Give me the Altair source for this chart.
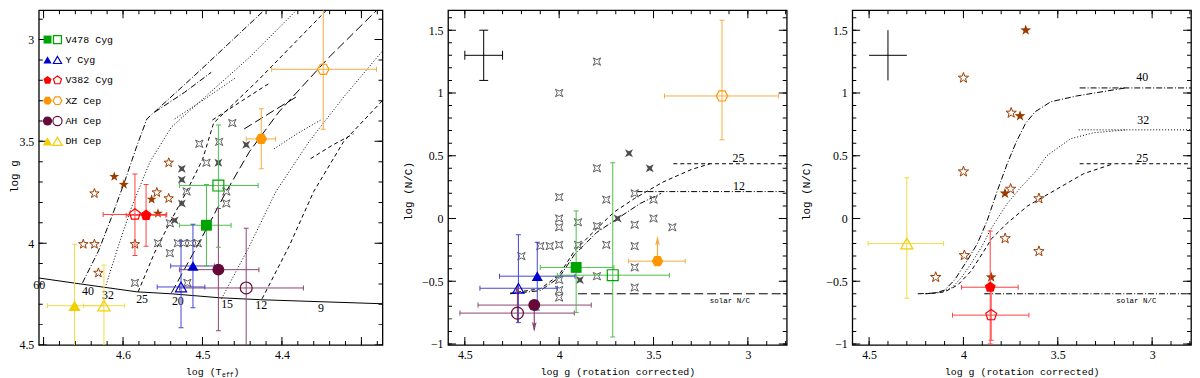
import altair as alt
import pandas as pd

NaN = float("nan")
MONO = "Liberation Mono"
SERIF = "Liberation Serif"

# ---------------- styles ----------------
STAR_NAMES = ["V478 Cyg", "Y Cyg", "V382 Cyg", "XZ Cep", "AH Cep", "DH Cep"]
STAR_COLORS = ["#00a400", "#0000cc", "#ff0000", "#ff9600", "#650a38", "#f2d000"]
BAR_COLORS = ["#4cbf4c", "#4646d2", "#ff4040", "#f6ad42", "#8a4672", "#f0dc46"]
PENTAGON = "M0,-1L0.951,-0.309L0.588,0.809L-0.588,0.809L-0.951,-0.309Z"
HEXAGON = "M1,0L0.5,0.866L-0.5,0.866L-1,0L-0.5,-0.866L0.5,-0.866Z"
STAR5 = ("M0,-1L0.235,-0.324L0.951,-0.309L0.38,0.124L0.588,0.809L0,0.4"
         "L-0.588,0.809L-0.38,0.124L-0.951,-0.309L-0.235,-0.324Z")
STAR4 = "M-1,-1L0,-0.5L1,-1L0.5,0L1,1L0,0.5L-1,1L-0.5,0Z"
ARROW_UP = "M0,-1L0.45,0.8L0,0.45L-0.45,0.8Z"
ARROW_DOWN = "M0,1L0.45,-0.8L0,-0.45L-0.45,-0.8Z"
STAR_SHAPES = ["square", "triangle-up", PENTAGON, HEXAGON, "circle", "triangle-up"]
STAR_SIZES = [120, 150, 250, 300, 225, 150]
LEGEND_SIZES = [64, 90, 110, 110, 100, 90]
BROWN = "#9a3b00"
GREY_OPEN = "#5e5e5e"
GREY_FILL = "#4e4e4e"
DASH = {"solid": None, "dashdot": [6, 2, 1, 2], "dotted": [1, 2],
        "dashed": [4, 3], "longdash": [9, 4]}

# ---------------- panel 1 data: log Teff vs log g ----------------
P1_STAR = ["V478 Cyg", "V478 Cyg", "Y Cyg", "Y Cyg", "V382 Cyg", "V382 Cyg",
           "XZ Cep", "XZ Cep", "AH Cep", "AH Cep", "DH Cep", "DH Cep"]
P1_KIND = ["filled", "open"] * 6
P1_TEFF = [4.495, 4.480, 4.512, 4.527, 4.571, 4.585, 4.426, 4.348, 4.480, 4.445, 4.661, 4.624]
P1_TEFF_LO = [4.529, 4.529, 4.540, 4.557, 4.596, 4.625, 4.445, 4.413, 4.529, 4.529, 4.695, 4.650]
P1_TEFF_HI = [4.464, 4.430, 4.485, 4.497, 4.546, 4.545, 4.408, 4.281, 4.429, 4.373, 4.625, 4.598]
P1_LOGG = [3.912, 3.717, 4.112, 4.215, 3.863, 3.859, 3.488, 3.146, 4.130, 4.220, 4.307, 4.307]
P1_LOGG_LO = [3.712, 3.420, 3.907, 3.990, 3.712, 3.660, 3.340, 2.844, 3.830, 3.927, 4.005, 4.107]
P1_LOGG_HI = [4.112, 4.020, 4.317, 4.415, 4.015, 4.060, 3.634, 3.440, 4.430, 4.520, 4.610, 4.507]

P1_GREY_OPEN_TEFF = [4.4625, 4.504, 4.479, 4.495, 4.520, 4.470, 4.470, 4.541,
                     4.556, 4.531, 4.524, 4.515, 4.506, 4.541, 4.585, 4.519]
P1_GREY_OPEN_LOGG = [3.410, 3.512, 3.502, 3.605, 3.746, 3.746, 3.805, 3.902,
                     4.000, 4.000, 4.000, 4.000, 4.000, 4.049, 4.195, 4.195]
P1_GREY_FILL_TEFF = [4.480, 4.445, 4.526, 4.526, 4.526, 4.535]
P1_GREY_FILL_LOGG = [3.605, 3.517, 3.634, 3.688, 3.805, 3.888]
P1_BROWN_OPEN_TEFF = [4.636, 4.5425, 4.5575, 4.5425, 4.585, 4.650, 4.636, 4.631]
P1_BROWN_OPEN_LOGG = [3.756, 3.605, 3.751, 3.780, 4.005, 4.005, 4.005, 4.146]
P1_BROWN_FILL_TEFF = [4.611, 4.599, 4.564, 4.556]
P1_BROWN_FILL_LOGG = [3.673, 3.712, 3.785, 3.854]

P1_TRACKS = {
    "zams": ("solid", [(4.706, 4.171), (4.654, 4.200), (4.5825, 4.239), (4.5375, 4.249),
                       (4.479, 4.268), (4.425, 4.278), (4.270, 4.298)]),
    "t40": ("dashdot", [(4.651, 4.195), (4.631, 4.039), (4.614, 3.868), (4.598, 3.698),
                        (4.583, 3.527), (4.570, 3.390), (4.504, 3.155), (4.4125, 2.820)]),
    "t40h": ("dashdot", [(4.560, 3.356), (4.5225, 3.259), (4.489, 3.161)]),
    "t32": ("dotted", [(4.6225, 4.220), (4.606, 4.015), (4.589, 3.820), (4.566, 3.600),
                       (4.539, 3.429), (4.504, 3.307), (4.441, 3.088), (4.3725, 2.820)]),
    "t32h": ("dotted", [(4.535, 3.390), (4.4975, 3.293), (4.4575, 3.185)]),
    "t25": ("dashed", [(4.581, 4.239), (4.560, 4.044), (4.541, 3.898), (4.520, 3.746),
                       (4.500, 3.590), (4.486, 3.410), (4.430, 3.200), (4.335, 2.820)]),
    "t25h": ("dashed", [(4.4875, 3.395), (4.450, 3.300), (4.414, 3.210)]),
    "t20": ("longdash", [(4.539, 4.244), (4.504, 3.995), (4.470, 3.746), (4.441, 3.551),
                         (4.404, 3.356), (4.341, 3.088), (4.275, 2.834)]),
    "t20h": ("longdash", [(4.4475, 3.439), (4.415, 3.360), (4.3825, 3.283)]),
    "t15": ("dotted", [(4.476, 4.273), (4.441, 4.015), (4.4075, 3.746), (4.366, 3.502),
                       (4.3225, 3.283), (4.270, 3.040)]),
    "t15h": ("dotted", [(4.410, 3.537), (4.380, 3.460), (4.351, 3.395)]),
    "t12": ("dashed", [(4.425, 4.273), (4.391, 4.015), (4.360, 3.746), (4.3225, 3.502),
                       (4.270, 3.285)]),
    "t12h": ("dashed", [(4.364, 3.585), (4.337, 3.520), (4.310, 3.463)]),
}
P1_TRACK_LABELS = ["60", "40", "32", "25", "20", "15", "12", "9"]
P1_TRACK_LABEL_TEFF = [4.7055, 4.644, 4.619, 4.576, 4.531, 4.469, 4.426, 4.351]
P1_TRACK_LABEL_LOGG = [4.205, 4.234, 4.254, 4.273, 4.283, 4.298, 4.302, 4.317]

# ---------------- panel 2 data: log g (rot. corr.) vs log N/C ----------------
P2_STAR = ["V478 Cyg", "V478 Cyg", "Y Cyg", "Y Cyg", "XZ Cep", "XZ Cep", "AH Cep", "AH Cep"]
P2_KIND = ["filled", "open"] * 4
P2_LOGG = [3.910, 3.716, 4.116, 4.216, 3.479, 3.137, 4.132, 4.221]
P2_LOGG_LO = [4.100, 4.010, 4.316, 4.420, 3.632, 3.442, 4.430, 4.526]
P2_LOGG_HI = [3.710, 3.416, 3.916, 4.010, 3.332, 2.837, 3.830, 3.920]
P2_NC = [-0.390, -0.452, -0.460, -0.556, -0.340, 0.976, -0.690, -0.754]
P2_NC_LO = [-0.750, -0.944, -0.730, -0.830, NaN, 0.627, NaN, NaN]
P2_NC_HI = [0.060, 0.444, -0.190, -0.130, NaN, 1.579, NaN, NaN]
P2_ARROW_STAR = ["XZ Cep", "AH Cep", "AH Cep"]
P2_ARROW_LOGG = [3.479, 4.132, 4.221]
P2_ARROW_FROM = [-0.340, -0.690, -0.830]
P2_ARROW_TO = [-0.150, -0.890, -0.530]
P2_ARROW_DIR = ["up", "down", "up"]

P2_GREY_OPEN_LOGG = [4.0, 3.8, 3.8, 3.6, 3.5, 3.75, 4.0, 3.5, 3.6, 3.8, 3.4, 3.6, 3.75, 4.0,
                     4.0, 4.0, 3.9, 3.9, 4.05, 4.1, 4.2, 4.0, 4.0, 4.0, 3.8, 3.6, 3.6]
P2_GREY_OPEN_NC = [1.0, 1.25, 0.4, 0.2, 0.15, 0.15, 0.17, 0.0, -0.05, -0.06, -0.07, -0.22,
                   -0.21, 0.0, -0.07, -0.21, -0.21, -0.03, -0.22, -0.22, -0.3, -0.49,
                   -0.57, -0.63, -0.46, -0.39, -0.55]
P2_GREY_FILL_LOGG = [3.63, 3.52, 3.69, 3.89]
P2_GREY_FILL_NC = [0.52, 0.40, 0.00, -0.49]

P2_TRACKS = {
    "n25": ("dashed", [(4.26, -0.595), (4.10, -0.56), (4.00, -0.45), (3.92, -0.26),
                       (3.80, -0.08), (3.71, 0.05), (3.60, 0.16), (3.45, 0.29),
                       (3.30, 0.39), (3.20, 0.436)]),
    "n25f": ("dashed", [(3.395, 0.436), (2.79, 0.436)]),
    "n12": ("dashdot", [(4.26, -0.60), (4.10, -0.575), (4.00, -0.47), (3.92, -0.29),
                        (3.80, -0.11), (3.69, 0.00), (3.57, 0.12), (3.46, 0.20)]),
    "n12f": ("dashdot", [(3.59, 0.214), (2.79, 0.214)]),
    "solar": ("longdash", [(3.90, -0.60), (2.79, -0.60)]),
}
P2_LABELS = ["25", "12"]
P2_LABEL_LOGG = [3.05, 3.047]
P2_LABEL_NC = [0.48, 0.26]

# ---------------- panel 3 data ----------------
P3_STAR = ["V382 Cyg", "V382 Cyg", "DH Cep"]
P3_KIND = ["filled", "open", "open"]
P3_LOGG = [3.858, 3.853, 4.300]
P3_LOGG_LO = [4.010, 4.058, 4.505]
P3_LOGG_HI = [3.710, 3.653, 4.105]
P3_NC = [-0.548, -0.770, -0.200]
P3_NC_LO = [-1.000, -0.970, -0.635]
P3_NC_HI = [-0.100, -0.570, 0.325]

P3_BROWN_OPEN_LOGG = [4.0, 3.747, 4.0, 3.75, 3.6, 3.779, 3.6, 3.995, 4.147]
P3_BROWN_OPEN_NC = [1.12, 0.841, 0.373, 0.235, 0.159, -0.159, -0.262, -0.294, -0.468]
P3_BROWN_FILL_LOGG = [3.67, 3.70, 3.78, 3.853]
P3_BROWN_FILL_NC = [1.50, 0.817, 0.20, -0.468]

P3_TRACKS = {
    "m40": ("dashdot", [(4.242, -0.60), (4.153, -0.595), (4.10, -0.571), (4.047, -0.49),
                        (3.979, -0.333), (3.926, -0.20), (3.874, -0.016), (3.82, 0.222),
                        (3.768, 0.436), (3.72, 0.61), (3.67, 0.76), (3.62, 0.85),
                        (3.537, 0.93), (3.40, 0.976), (3.142, 1.04)]),
    "m40f": ("dashdot", [(3.384, 1.04), (2.79, 1.04)]),
    "m32": ("dotted", [(4.20, -0.60), (4.12, -0.59), (4.06, -0.55), (4.01, -0.47),
                       (3.96, -0.36), (3.905, -0.23), (3.853, -0.08), (3.768, 0.119),
                       (3.695, 0.25), (3.62, 0.37), (3.558, 0.50), (3.432, 0.635),
                       (3.311, 0.683), (3.137, 0.706)]),
    "m32f": ("dotted", [(3.389, 0.706), (2.79, 0.706)]),
    "m25": ("dashed", [(4.20, -0.60), (4.10, -0.585), (4.03, -0.53), (3.96, -0.42),
                       (3.90, -0.28), (3.85, -0.16), (3.77, -0.04), (3.66, 0.10),
                       (3.537, 0.206), (3.363, 0.357), (3.205, 0.436)]),
    "m25f": ("dashed", [(3.384, 0.436), (2.79, 0.436)]),
    "solar": ("dashdot", [(3.89, -0.60), (2.79, -0.60)]),
}
P3_LABELS = ["40", "32", "25"]
P3_LABEL_LOGG = [3.053, 3.047, 3.053]
P3_LABEL_NC = [1.127, 0.786, 0.484]

SOLAR_TEXT = "solar N/C"
SOLAR_LOGG = [3.095, 3.084]
SOLAR_NC = -0.656

CROSS = {"x": 4.4, "xlo": 4.5, "xhi": 4.3, "y": 1.3, "ylo": 1.1, "yhi": 1.5}

# ---------------- layout ----------------
H = 337
W1, W2 = 346, 341
X1_DOM, Y1_DOM = [4.2735, 4.706], [2.856, 4.5]
X2_DOM, Y2_DOM = [2.794, 4.589], [-1.008, 1.659]
SX1 = alt.Scale(domain=X1_DOM, reverse=True, nice=False, zero=False)
SY1 = alt.Scale(domain=Y1_DOM, reverse=True, nice=False, zero=False)
SX2 = alt.Scale(domain=X2_DOM, reverse=True, nice=False, zero=False)
SY2 = alt.Scale(domain=Y2_DOM, nice=False, zero=False)


def steps(a, b, st):
    n = int(round((b - a) / st))
    return [round(a + k * st, 4) for k in range(n + 1)]


def enc(sx, sy, xf="x", yf="y"):
    return dict(x=alt.X(f"{xf}:Q", scale=sx, axis=None),
                y=alt.Y(f"{yf}:Q", scale=sy, axis=None))


def frame_layers(sx, sy, xdom, ydom, xlab, xmaj, xmin, ylab, ymaj, ymin,
                 ytitle, ytx, yty, xtitle):
    dummy = pd.DataFrame({"x": [xlab[1]], "y": [ylab[1]]})
    xkw = dict(orient="bottom", values=xlab, format="~g", ticks=False, domain=False,
               grid=False, labelFont=SERIF, labelFontSize=12, labelColor="black",
               labelPadding=5, labelFlush=False, labelOverlap=False)
    if xtitle:
        xkw.update(title=xtitle, titleFont=MONO, titleFontSize=10, titleFontWeight="normal",
                   titleColor="black", titleY=27, titleBaseline="middle")
    else:
        xkw.update(title=None)
    ykw = dict(orient="left", values=ylab, format="~g", ticks=False, domain=False,
               grid=False, labelFont=SERIF, labelFontSize=12, labelColor="black",
               labelPadding=5, labelFlush=False, labelOverlap=False,
               title=ytitle, titleFont=MONO, titleFontSize=11, titleFontWeight="normal",
               titleColor="black", titleX=ytx, titleY=yty, titleBaseline="middle",
               titleAngle=270)
    layers = [alt.Chart(dummy).mark_point(opacity=0).encode(
        x=alt.X("x:Q", scale=sx, axis=alt.Axis(**xkw)),
        y=alt.Y("y:Q", scale=sy, axis=alt.Axis(**ykw)))]
    # inward ticks on all four sides: ticks centred on the frame, clipped to the plot
    for xv, yv, ln in ((xmaj, ymaj, 8), (xmin, ymin, 4)):
        xt = pd.DataFrame({"x": xv * 2, "y": [ydom[0]] * len(xv) + [ydom[1]] * len(xv)})
        yt = pd.DataFrame({"x": [xdom[0]] * len(yv) + [xdom[1]] * len(yv), "y": yv * 2})
        layers.append(alt.Chart(xt).mark_tick(orient="vertical", size=2 * ln, thickness=1,
                                              color="black", opacity=1, clip=True).encode(**enc(sx, sy)))
        layers.append(alt.Chart(yt).mark_tick(orient="horizontal", size=2 * ln, thickness=1,
                                              color="black", opacity=1, clip=True).encode(**enc(sx, sy)))
    return layers


def track_layers(tracks, sx, sy):
    rows = []
    for name, (style, pts) in tracks.items():
        for i, (a, b) in enumerate(pts):
            rows.append({"seg": name, "style": style, "i": i, "x": a, "y": b})
    df = pd.DataFrame(rows)
    out = []
    for style, dash in DASH.items():
        sub = df[df["style"] == style]
        if sub.empty:
            continue
        kw = dict(color="black", strokeWidth=1, clip=True)
        if dash:
            kw["strokeDash"] = dash
        out.append(alt.Chart(sub).mark_line(**kw).encode(
            detail="seg:N", order="i:Q", **enc(sx, sy)))
    return out


def pts_layer(xs, ys, sx, sy, shape, size, color, filled):
    df = pd.DataFrame({"x": xs, "y": ys})
    kw = dict(shape=shape, size=size, color=color, filled=filled, opacity=1)
    kw["strokeWidth"] = 0.6 if filled else 1
    return alt.Chart(df).mark_point(**kw).encode(**enc(sx, sy))


def text_layer(texts, xs, ys, sx, sy, font=SERIF, size=12):
    df = pd.DataFrame({"t": texts, "x": xs, "y": ys})
    return alt.Chart(df).mark_text(font=font, fontSize=size, color="black",
                                   align="center", baseline="middle").encode(
        text="t:N", **enc(sx, sy))


def bar_color():
    return alt.Color("star:N", scale=alt.Scale(domain=STAR_NAMES, range=BAR_COLORS), legend=None)


def errorbar_layers(df, sx, sy):
    h = df.dropna(subset=["xlo", "xhi"])
    v = df.dropna(subset=["ylo", "yhi"])
    out = [
        alt.Chart(h).mark_rule(strokeWidth=1, clip=True).encode(
            x=alt.X("xlo:Q", scale=sx, axis=None), x2="xhi:Q",
            y=alt.Y("y:Q", scale=sy, axis=None), color=bar_color()),
        alt.Chart(v).mark_rule(strokeWidth=1, clip=True).encode(
            x=alt.X("x:Q", scale=sx, axis=None),
            y=alt.Y("ylo:Q", scale=sy, axis=None), y2="yhi:Q", color=bar_color()),
    ]
    hc = pd.concat([h.assign(cx=h["xlo"]), h.assign(cx=h["xhi"])])
    vc = pd.concat([v.assign(cy=v["ylo"]), v.assign(cy=v["yhi"])])
    out.append(alt.Chart(hc).mark_tick(orient="vertical", size=5, thickness=1, opacity=1,
                                       clip=True).encode(color=bar_color(), **enc(sx, sy, "cx", "y")))
    out.append(alt.Chart(vc).mark_tick(orient="horizontal", size=5, thickness=1, opacity=1,
                                       clip=True).encode(color=bar_color(), **enc(sx, sy, "x", "cy")))
    return out


def marker_layers(df, sx, sy, sizes=STAR_SIZES, xf="x", yf="y"):
    shape = alt.Shape("star:N", scale=alt.Scale(domain=STAR_NAMES, range=STAR_SHAPES), legend=None)
    size = alt.Size("star:O", scale=alt.Scale(domain=STAR_NAMES, range=sizes), legend=None)
    color = alt.Color("star:N", scale=alt.Scale(domain=STAR_NAMES, range=STAR_COLORS), legend=None)
    out = []
    f = df[df["kind"] == "filled"]
    o = df[df["kind"] == "open"]
    if len(f):
        out.append(alt.Chart(f).mark_point(filled=True, opacity=1, strokeWidth=0).encode(
            shape=shape, size=size, color=color, **enc(sx, sy, xf, yf)))
    if len(o):
        out.append(alt.Chart(o).mark_point(filled=False, opacity=1, strokeWidth=1.2).encode(
            shape=shape, size=size, color=color, **enc(sx, sy, xf, yf)))
    return out


def cross_layers(sx, sy, caps):
    df = pd.DataFrame([CROSS])
    out = [
        alt.Chart(df).mark_rule(color="black", strokeWidth=1).encode(
            x=alt.X("xlo:Q", scale=sx, axis=None), x2="xhi:Q", y=alt.Y("y:Q", scale=sy, axis=None)),
        alt.Chart(df).mark_rule(color="black", strokeWidth=1).encode(
            x=alt.X("x:Q", scale=sx, axis=None), y=alt.Y("ylo:Q", scale=sy, axis=None), y2="yhi:Q"),
    ]
    if caps:
        hc = pd.concat([df.assign(cx=df["xlo"]), df.assign(cx=df["xhi"])])
        vc = pd.concat([df.assign(cy=df["ylo"]), df.assign(cy=df["yhi"])])
        out.append(alt.Chart(hc).mark_tick(orient="vertical", size=9, thickness=1, opacity=1,
                                           color="black").encode(**enc(sx, sy, "cx", "y")))
        out.append(alt.Chart(vc).mark_tick(orient="horizontal", size=9, thickness=1, opacity=1,
                                           color="black").encode(**enc(sx, sy, "x", "cy")))
    return out


def stars_df(star, kind, x, xlo, xhi, y, ylo, yhi):
    return pd.DataFrame({"star": star, "kind": kind, "x": x, "xlo": xlo, "xhi": xhi,
                         "y": y, "ylo": ylo, "yhi": yhi})


def finish(layers, W):
    return (alt.layer(*layers)
            .resolve_axis(x="independent", y="independent")
            .resolve_scale(color="independent", shape="independent", size="independent")
            .properties(width=W, height=H))


# ---------------- panel 1 ----------------
p1 = []
p1 += frame_layers(SX1, SY1, X1_DOM, Y1_DOM, [4.6, 4.5, 4.4], [4.7, 4.6, 4.5, 4.4, 4.3],
                   steps(4.28, 4.70, 0.02), [3, 3.5, 4, 4.5], [3, 3.5, 4, 4.5],
                   steps(2.9, 4.5, 0.1), "log g", -24, 167, None)
p1 += track_layers(P1_TRACKS, SX1, SY1)
p1.append(text_layer(P1_TRACK_LABELS, P1_TRACK_LABEL_TEFF, P1_TRACK_LABEL_LOGG, SX1, SY1))
p1.append(pts_layer(P1_GREY_OPEN_TEFF, P1_GREY_OPEN_LOGG, SX1, SY1, STAR4, 56, GREY_OPEN, False))
p1.append(pts_layer(P1_GREY_FILL_TEFF, P1_GREY_FILL_LOGG, SX1, SY1, STAR4, 64, GREY_FILL, True))
p1.append(pts_layer(P1_BROWN_OPEN_TEFF, P1_BROWN_OPEN_LOGG, SX1, SY1, STAR5, 100, BROWN, False))
p1.append(pts_layer(P1_BROWN_FILL_TEFF, P1_BROWN_FILL_LOGG, SX1, SY1, STAR5, 110, BROWN, True))
df1 = stars_df(P1_STAR, P1_KIND, P1_TEFF, P1_TEFF_LO, P1_TEFF_HI, P1_LOGG, P1_LOGG_LO, P1_LOGG_HI)
p1 += errorbar_layers(df1, SX1, SY1)
p1 += marker_layers(df1, SX1, SY1)
# legend (rows placed on the log g grid, as in the original)
leg = pd.DataFrame({"star": STAR_NAMES})
leg["y"] = [3.0 + 0.1 * i for i in range(len(STAR_NAMES))]
leg["fx"] = 4.695
leg["ox"] = 4.6825
leg["tx"] = 4.6725
p1 += marker_layers(leg.assign(kind="filled"), SX1, SY1, LEGEND_SIZES, "fx", "y")
p1 += marker_layers(leg.assign(kind="open"), SX1, SY1, LEGEND_SIZES, "ox", "y")
p1.append(alt.Chart(leg).mark_text(font=MONO, fontSize=10, color="black", align="left",
                                   baseline="middle").encode(text="star:N", **enc(SX1, SY1, "tx", "y")))
one = pd.DataFrame({"a": [0]})
p1.append(alt.Chart(one).mark_text(text="log (T", font=MONO, fontSize=10, color="black",
                                   align="right", baseline="middle").encode(
    x=alt.value(184), y=alt.value(H + 27)))
p1.append(alt.Chart(one).mark_text(text="eff", font=MONO, fontSize=6.5, color="black",
                                   align="left", baseline="middle").encode(
    x=alt.value(184.5), y=alt.value(H + 30)))
p1.append(alt.Chart(one).mark_text(text=")", font=MONO, fontSize=10, color="black",
                                   align="left", baseline="middle").encode(
    x=alt.value(196), y=alt.value(H + 27)))
panel1 = finish(p1, W1)

# ---------------- panel 2 ----------------
XT = "log g (rotation corrected)"
YT = "log (N/C)"
p2 = []
p2 += frame_layers(SX2, SY2, X2_DOM, Y2_DOM, [4.5, 4, 3.5, 3], [4.5, 4, 3.5, 3],
                   steps(2.8, 4.5, 0.1), [-1, -0.5, 0, 0.5, 1, 1.5],
                   [-1, -0.5, 0, 0.5, 1, 1.5], steps(-1.0, 1.6, 0.1), YT, -40, 182, XT)
p2 += track_layers(P2_TRACKS, SX2, SY2)
p2.append(text_layer(P2_LABELS, P2_LABEL_LOGG, P2_LABEL_NC, SX2, SY2))
p2.append(text_layer([SOLAR_TEXT], [SOLAR_LOGG[0]], [SOLAR_NC], SX2, SY2, MONO, 7.5))
p2 += cross_layers(SX2, SY2, True)
p2.append(pts_layer(P2_GREY_OPEN_LOGG, P2_GREY_OPEN_NC, SX2, SY2, STAR4, 56, GREY_OPEN, False))
p2.append(pts_layer(P2_GREY_FILL_LOGG, P2_GREY_FILL_NC, SX2, SY2, STAR4, 64, GREY_FILL, True))
df2 = stars_df(P2_STAR, P2_KIND, P2_LOGG, P2_LOGG_LO, P2_LOGG_HI, P2_NC, P2_NC_LO, P2_NC_HI)
p2 += errorbar_layers(df2, SX2, SY2)
arr = pd.DataFrame({"star": P2_ARROW_STAR, "x": P2_ARROW_LOGG, "y0": P2_ARROW_FROM,
                    "y1": P2_ARROW_TO, "dir": P2_ARROW_DIR})
p2.append(alt.Chart(arr).mark_rule(strokeWidth=1.2).encode(
    x=alt.X("x:Q", scale=SX2, axis=None), y=alt.Y("y0:Q", scale=SY2, axis=None),
    y2="y1:Q", color=bar_color()))
for d, path, off in (("up", ARROW_UP, 4), ("down", ARROW_DOWN, -4)):
    p2.append(alt.Chart(arr[arr["dir"] == d]).mark_point(
        shape=path, size=110, filled=True, opacity=1, yOffset=off).encode(
        color=bar_color(), **enc(SX2, SY2, "x", "y1")))
p2 += marker_layers(df2, SX2, SY2)
panel2 = finish(p2, W2)

# ---------------- panel 3 ----------------
p3 = []
p3 += frame_layers(SX2, SY2, X2_DOM, Y2_DOM, [4.5, 4, 3.5, 3], [4.5, 4, 3.5, 3],
                   steps(2.8, 4.5, 0.1), [-1, -0.5, 0, 0.5, 1, 1.5],
                   [-1, -0.5, 0, 0.5, 1, 1.5], steps(-1.0, 1.6, 0.1), YT, -46, 182, XT)
p3 += track_layers(P3_TRACKS, SX2, SY2)
p3.append(text_layer(P3_LABELS, P3_LABEL_LOGG, P3_LABEL_NC, SX2, SY2))
p3.append(text_layer([SOLAR_TEXT], [SOLAR_LOGG[1]], [SOLAR_NC], SX2, SY2, MONO, 7.5))
p3 += cross_layers(SX2, SY2, False)
p3.append(pts_layer(P3_BROWN_OPEN_LOGG, P3_BROWN_OPEN_NC, SX2, SY2, STAR5, 120, BROWN, False))
p3.append(pts_layer(P3_BROWN_FILL_LOGG, P3_BROWN_FILL_NC, SX2, SY2, STAR5, 130, BROWN, True))
df3 = stars_df(P3_STAR, P3_KIND, P3_LOGG, P3_LOGG_LO, P3_LOGG_HI, P3_NC, P3_NC_LO, P3_NC_HI)
p3 += errorbar_layers(df3, SX2, SY2)
p3 += marker_layers(df3, SX2, SY2)
panel3 = finish(p3, W2)

chart = (alt.hconcat(panel1, panel2, panel3, spacing=66, bounds="flush")
         .properties(padding=0)
         .configure_view(stroke="black", strokeWidth=1.3))
chart.save("out.html", embed_options={"renderer": "svg", "actions": False})
